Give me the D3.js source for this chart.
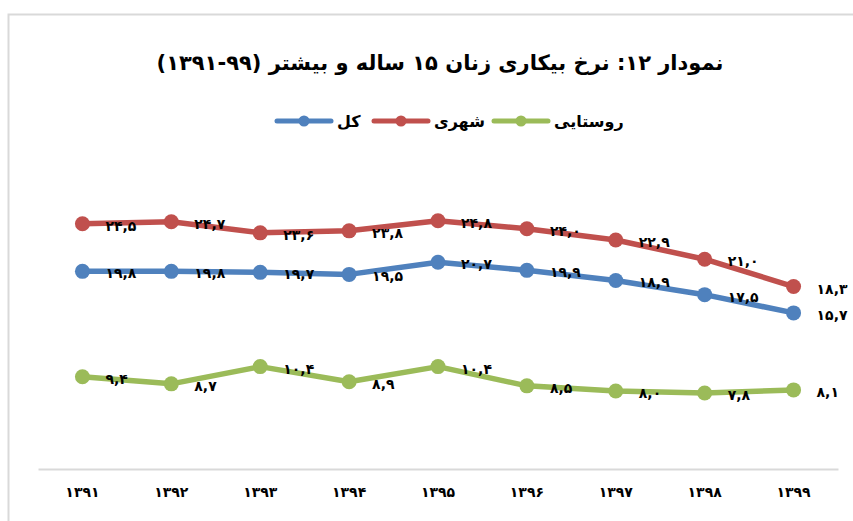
<!DOCTYPE html>
<html lang="fa">
<head>
<meta charset="utf-8">
<script src="https://cdn.jsdelivr.net/npm/d3@7"></script>
<style>
  html, body { margin: 0; padding: 0; background: #fff; }
  svg { display: block; font-family: "DejaVu Sans", sans-serif; }
</style>
</head>
<body>
<svg id="chart" width="853" height="521"></svg>
<script>
const years = ["1391","1392","1393","1394","1395","1396","1397","1398","1399"];
const yearLabels = ["۱۳۹۱","۱۳۹۲","۱۳۹۳","۱۳۹۴","۱۳۹۵","۱۳۹۶","۱۳۹۷","۱۳۹۸","۱۳۹۹"];
const totalValues = [19.8, 19.8, 19.7, 19.5, 20.7, 19.9, 18.9, 17.5, 15.7];
const urbanValues = [24.5, 24.7, 23.6, 23.8, 24.8, 24.0, 22.9, 21.0, 18.3];
const ruralValues = [9.4, 8.7, 10.4, 8.9, 10.4, 8.5, 8.0, 7.8, 8.1];
const seriesNames = ["کل", "شهری", "روستایی"];
const seriesColors = ["#4F81BD", "#C0504D", "#9BBB59"];
const titleText = "نمودار ۱۲: نرخ بیکاری زنان ۱۵ ساله و بیشتر (۹۹-۱۳۹۱)";

const series = [
  { name: seriesNames[0], color: seriesColors[0], values: totalValues },
  { name: seriesNames[1], color: seriesColors[1], values: urbanValues },
  { name: seriesNames[2], color: seriesColors[2], values: ruralValues }
];

const faDigits = "۰۱۲۳۴۵۶۷۸۹";
function toFa(v) {
  return v.toFixed(1).replace(/[0-9]/g, d => faDigits[+d]).replace(".", ",");
}

const svg = d3.select("#chart");

// outer frame
svg.append("rect")
  .attr("x", 8.5).attr("y", 14.5)
  .attr("width", 900).attr("height", 600)
  .attr("fill", "none").attr("stroke", "#d9d9d9").attr("stroke-width", 2);

const x = d3.scaleBand().domain(years).range([38, 838]);
const y = d3.scaleLinear().domain([0, 30]).range([472, 168]);

// title
svg.append("text")
  .attr("x", 440).attr("y", 70)
  .attr("text-anchor", "middle")
  .attr("direction", "rtl")
  .attr("font-size", 21).attr("font-weight", "bold")
  .attr("fill", "#000")
  .text(titleText);

// legend
const legendItems = [
  { s: series[0], x0: 277 },
  { s: series[1], x0: 374 },
  { s: series[2], x0: 494 }
];
const lg = svg.append("g");
legendItems.forEach(it => {
  lg.append("line")
    .attr("x1", it.x0).attr("x2", it.x0 + 54)
    .attr("y1", 121).attr("y2", 121)
    .attr("stroke", it.s.color).attr("stroke-width", 5).attr("stroke-linecap", "round");
  lg.append("circle")
    .attr("cx", it.x0 + 27).attr("cy", 121).attr("r", 5.5)
    .attr("fill", it.s.color);
  lg.append("text")
    .attr("x", it.x0 + 60).attr("y", 127)
    .attr("text-anchor", "start")
    .attr("font-size", 16).attr("font-weight", "bold")
    .text(it.s.name);
});

// x axis
const xAxis = d3.axisBottom(x).tickSize(0).tickPadding(18)
  .tickFormat((d, i) => yearLabels[i]);
const ax = svg.append("g").attr("transform", "translate(0,469)").call(xAxis);
ax.select(".domain").attr("stroke", "#d9d9d9").attr("stroke-width", 2);
ax.selectAll("text")
  .attr("font-size", 14).attr("font-weight", "bold")
  .attr("fill", "#000")
  .attr("font-family", "DejaVu Sans, sans-serif");

// lines
const cx = i => x(years[i]) + x.bandwidth() / 2;
const line = d3.line().x((d, i) => cx(i)).y(d => y(d));

series.forEach(s => {
  const g = svg.append("g");
  g.append("path")
    .datum(s.values)
    .attr("d", line)
    .attr("fill", "none")
    .attr("stroke", s.color)
    .attr("stroke-width", 5.5)
    .attr("stroke-linejoin", "round");
  g.selectAll("circle")
    .data(s.values)
    .join("circle")
    .attr("cx", (d, i) => cx(i))
    .attr("cy", d => y(d))
    .attr("r", 7.5)
    .attr("fill", s.color);
  g.selectAll("text")
    .data(s.values)
    .join("text")
    .attr("x", (d, i) => cx(i) + 23)
    .attr("y", d => y(d) + 7)
    .attr("text-anchor", "start")
    .attr("font-size", 14).attr("font-weight", "bold")
    .attr("fill", "#000")
    .text(d => toFa(d));
});
</script>
</body>
</html>
